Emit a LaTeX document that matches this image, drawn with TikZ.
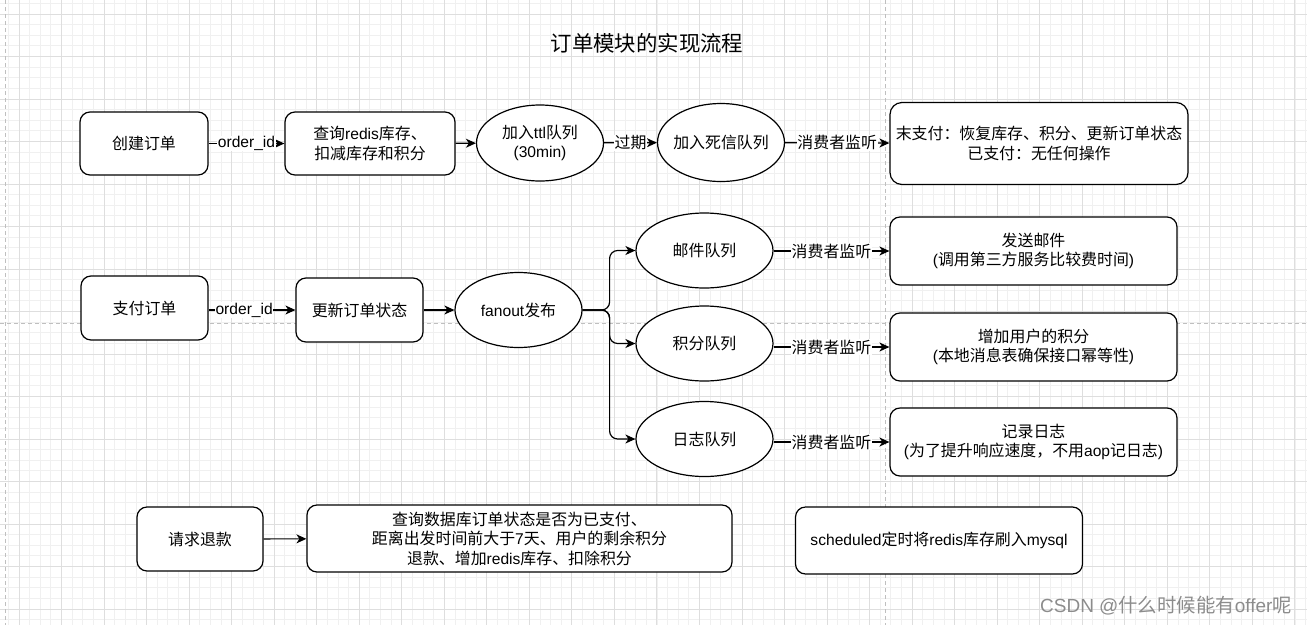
\documentclass[tikz,border=0pt]{standalone}
\usepackage{fontspec}
\setmainfont{Liberation Sans}
\newfontfamily\cjkfont[Scale=1.02]{Noto Sans CJK SC}
\usetikzlibrary{arrows.meta,shapes.geometric,calc}
\newXeTeXintercharclass\CJKcls
\newcount\cjkcnt
\def\setcjkrange#1#2{\cjkcnt=#1\relax\loop\XeTeXcharclass\cjkcnt=\CJKcls\relax\ifnum\cjkcnt<#2\advance\cjkcnt by 1\repeat}
\setcjkrange{"3000}{"303F}
\setcjkrange{"4E00}{"9FFF}
\setcjkrange{"FF00}{"FFEF}
\XeTeXinterchartoks 0 \CJKcls = {\cjkfont}
\XeTeXinterchartoks 4095 \CJKcls = {\cjkfont}
\XeTeXinterchartoks \CJKcls 0 = {\rmfamily}
\XeTeXinterchartoks 4095 0 = {\rmfamily}
\XeTeXinterchartokenstate=1
\begin{document}
\begin{tikzpicture}[x=1pt,y=-1pt,
  every node/.style={font=\fontsize{15.6}{19.5}\selectfont},
  box/.style={draw=black, fill=white, line width=1.2pt, rounded corners=10pt, inner sep=0pt, align=center},
  ell/.style={draw=black, fill=white, line width=1.2pt, ellipse, inner xsep=-12pt, inner ysep=0pt, align=center},
  arr/.style={draw=black, line width=1.2pt, -{Stealth[length=10pt,width=9pt,inset=3pt]}},
  lbl/.style={fill=white, inner sep=0.5pt},
  minorgrid/.style={draw=black!6, line width=0.8pt},
  majorgrid/.style={draw=black!13, line width=1pt},
  pageline/.style={draw=black!25, line width=1pt, dash pattern=on 4pt off 3pt}]
\useasboundingbox (0,0) rectangle (1307,625);
\fill[white] (0,0) rectangle (1307,625);
% grid
\foreach \j in {-1,...,121} \draw[minorgrid] ({19+\j*10.6325},0) -- ({19+\j*10.6325},625);
\foreach \j in {-1,...,57} \draw[minorgrid] (0,{14+\j*10.625}) -- (1307,{14+\j*10.625});
\foreach \k in {0,...,30} \draw[majorgrid] ({19+\k*42.53},0) -- ({19+\k*42.53},625);
\foreach \k in {0,...,14} \draw[majorgrid] (0,{14+\k*42.5}) -- (1307,{14+\k*42.5});
% page break lines
\draw[pageline] (5.5,0) -- (5.5,625);
\draw[pageline] (885,0) -- (885,625);
\draw[pageline] (0,323) -- (1307,323);

% title
\node[font=\fontsize{21}{24}\selectfont] (title) at (647,43) {订单模块的实现流程};

% row 1
\node[box, minimum width=128pt, minimum height=63pt] (create) at (144,143.5) {创建订单};
\node[box, minimum width=170pt, minimum height=63pt] (query) at (370,143.5) {查询redis库存、\\扣减库存和积分};
\node[ell, minimum width=127pt, minimum height=76pt] (ttl) at (540,143) {加入ttl队列\\(30min)};
\node[ell, minimum width=127pt, minimum height=78pt] (dead) at (721,142.5) {加入死信队列};
\node[box, rounded corners=12pt, minimum width=298pt, minimum height=82pt] (unpaid) at (1039,143.5) {末支付：恢复库存、积分、更新订单状态\\已支付：无任何操作};

% row 2
\node[box, minimum width=127pt, minimum height=64pt] (pay) at (144.5,308) {支付订单};
\node[box, minimum width=127pt, minimum height=64pt] (upd) at (359.5,310) {更新订单状态};
\node[ell, minimum width=127pt, minimum height=75pt] (fan) at (518.5,310) {fanout发布};
\node[ell, minimum width=137pt, minimum height=75pt] (mailq) at (704.5,250.5) {邮件队列};
\node[ell, minimum width=137pt, minimum height=75pt] (pointq) at (704.5,343.5) {积分队列};
\node[ell, minimum width=137pt, minimum height=75pt] (logq) at (704.5,439) {日志队列};
\node[box, minimum width=287pt, minimum height=68pt] (mailbox) at (1033.5,251) {发送邮件\\(调用第三方服务比较费时间)};
\node[box, minimum width=287pt, minimum height=68pt] (pointbox) at (1033.5,347) {增加用户的积分\\(本地消息表确保接口幂等性)};
\node[box, minimum width=287pt, minimum height=68pt] (logbox) at (1033.5,442) {记录日志\\(为了提升响应速度，不用aop记日志)};

% row 3
\node[box, minimum width=126pt, minimum height=64pt] (refund) at (200,539) {请求退款};
\node[box, minimum width=425pt, minimum height=67pt] (refdet) at (519.5,538.5) {查询数据库订单状态是否为已支付、\\距离出发时间前大于7天、用户的剩余积分\\退款、增加redis库存、扣除积分};
\node[box, minimum width=287pt, minimum height=67pt] (sched) at (939,540.5) {scheduled定时将redis库存刷入mysql};

% watermark
\node[text=black!45, font=\fontsize{19}{22}\selectfont] (wm) at (1166,606) {CSDN @什么时候能有offer呢};

% edges
\draw[arr] (create) -- node[lbl]{order\_id} (query);
\draw[arr] (query) -- (ttl);
\draw[arr] (ttl) -- node[lbl]{过期} (dead);
\draw[arr] (dead) -- node[lbl]{消费者监听} (unpaid);
\draw[arr] (pay.east |- upd.west) -- node[lbl, pos=0.41]{order\_id} (upd.west);
\draw[arr] (upd) -- (fan);
\draw[arr, rounded corners=8pt] (fan.east) -- ++(27,0) |- (mailq.west);
\draw[arr, rounded corners=8pt] (fan.east) -- ++(27,0) |- (pointq.west);
\draw[arr, rounded corners=8pt] (fan.east) -- ++(27,0) |- (logq.west);
\draw[arr] (mailq.east |- mailbox.west) -- node[lbl]{消费者监听} (mailbox.west);
\draw[arr] (pointq.east |- pointbox.west) -- node[lbl]{消费者监听} (pointbox.west);
\draw[arr] (logq.east |- logbox.west) -- node[lbl]{消费者监听} (logbox.west);
\draw[arr] (refund) -- (refdet);
\end{tikzpicture}
\end{document}
